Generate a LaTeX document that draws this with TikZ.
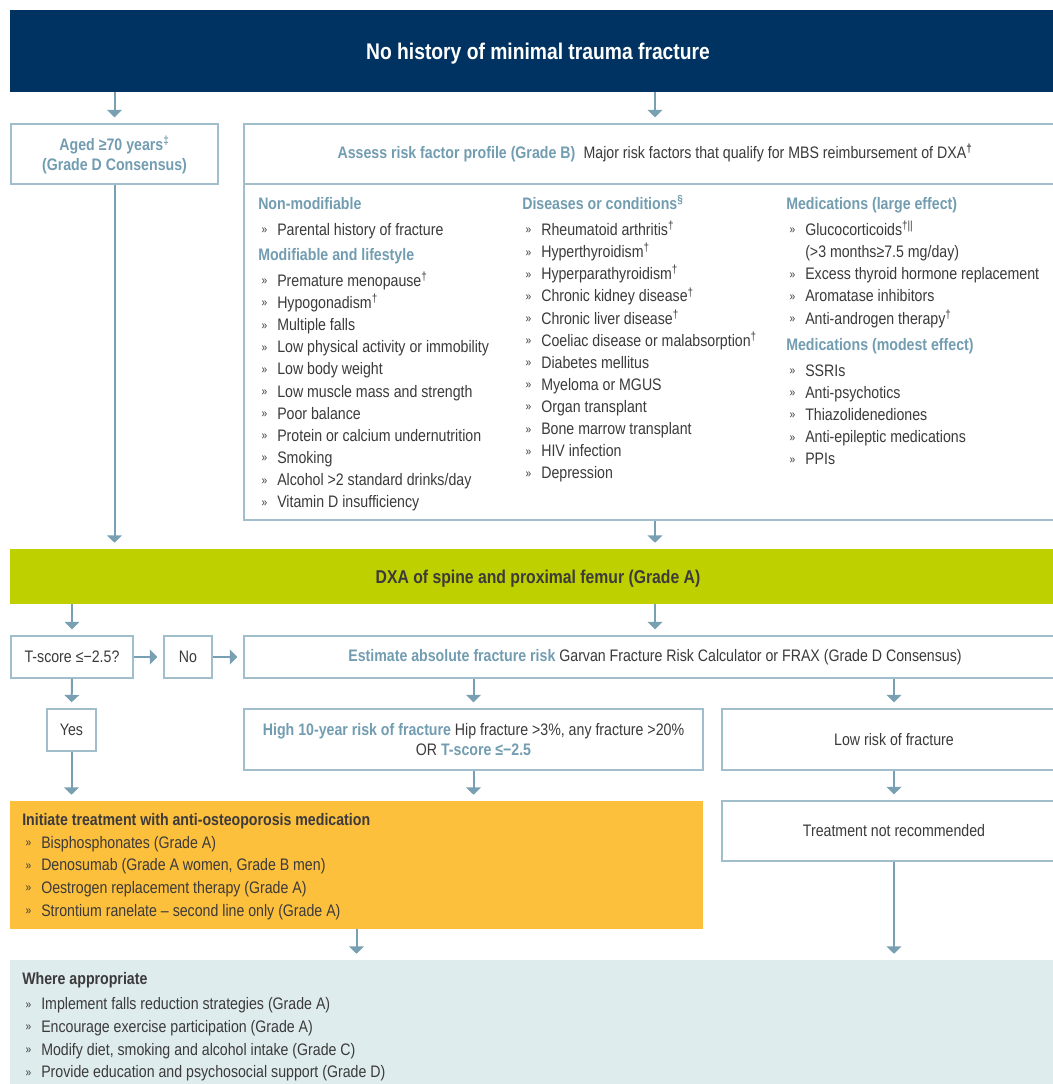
\documentclass[tikz,border=0pt]{standalone}
\usepackage{fontspec}
\setmainfont[FakeStretch=0.85]{Liberation Sans}
\usetikzlibrary{arrows.meta,calc,positioning}
\definecolor{navy}{RGB}{0,51,97}
\definecolor{lime}{RGB}{190,208,0}
\definecolor{amber}{RGB}{253,192,61}
\definecolor{mist}{RGB}{222,236,238}
\definecolor{hblue}{RGB}{114,157,177}
\definecolor{arrowc}{RGB}{120,160,178}
\definecolor{boxline}{RGB}{160,190,204}
\definecolor{ink}{RGB}{60,58,58}
\newcommand\pu{0.75pt}
\newcommand\hd[1]{{\bfseries\color{hblue}#1}}
\newcommand\itm{\makebox[14.25pt][l]{\hspace{2.5pt}\raisebox{1.2pt}{\fontsize{9}{9}\selectfont »}}}
\newcommand\fn[1]{\smash{\textsuperscript{#1}}}
\tikzset{
  box/.style={draw=boxline,line width=1.1pt,fill=white,inner sep=0pt,align=center,text=ink},
  band/.style={inner sep=0pt,align=center},
  arr/.style={draw=arrowc,line width=1.5pt,-{Triangle[width=11pt,length=5.5pt]},shorten >=4.5pt},
  lst/.style={anchor=north west,align=left,inner sep=0pt,text=ink,font=\fontsize{12.5}{16.6}\selectfont},
  every node/.style={font=\fontsize{12.5}{15.5}\selectfont}
}

\begin{document}
\begin{tikzpicture}[x=0.75pt,y=-0.75pt]
\useasboundingbox (0,0) rectangle (1052,1084);
% top band
\node[band,fill=navy,minimum width={1056*\pu},minimum height={82*\pu},text=white,
      text height=12.2pt,text depth=0pt,
      font=\bfseries\fontsize{17}{20}\selectfont] (title) at (538,51) {No history of minimal trauma fracture};
% age and risk factor boxes
\node[box,minimum width={207*\pu},minimum height={60*\pu}] (aged) at (114.5,154)
  {\rule{0pt}{12.1pt}\hd{Aged ≥70 years\fn{‡}}\\ \hd{(Grade D Consensus)}};
\node[box,minimum width={822*\pu},minimum height={396*\pu}] (assess) at (655,322) {};
\draw[boxline,line width=1.1pt] (assess.west |- 0,184) -- (assess.east |- 0,184);
\node[text=ink] (asshd) at (655,154)
  {\hd{Assess risk factor profile (Grade B)}\enspace Major risk factors that qualify for MBS reimbursement of DXA\fn{\bfseries †}};
\node[lst] (nonmod) at (258,197) {%
  \hd{Non-modifiable}\\[3pt]
  \itm Parental history of fracture\\[2pt]
  \hd{Modifiable and lifestyle}\\[3pt]
  \itm Premature menopause\fn{†}\\
  \itm Hypogonadism\fn{†}\\
  \itm Multiple falls\\
  \itm Low physical activity or immobility\\
  \itm Low body weight\\
  \itm Low muscle mass and strength\\
  \itm Poor balance\\
  \itm Protein or calcium undernutrition\\
  \itm Smoking\\
  \itm Alcohol >2 standard drinks/day\\
  \itm Vitamin D insufficiency};
\node[lst] (disease) at (522,197) {%
  \hd{Diseases or conditions\fn{§}}\\[3pt]
  \itm Rheumatoid arthritis\fn{†}\\
  \itm Hyperthyroidism\fn{†}\\
  \itm Hyperparathyroidism\fn{†}\\
  \itm Chronic kidney disease\fn{†}\\
  \itm Chronic liver disease\fn{†}\\
  \itm Coeliac disease or malabsorption\fn{†}\\
  \itm Diabetes mellitus\\
  \itm Myeloma or MGUS\\
  \itm Organ transplant\\
  \itm Bone marrow transplant\\
  \itm HIV infection\\
  \itm Depression};
\node[lst] (medic) at (786,197) {%
  \hd{Medications (large effect)}\\[3pt]
  \itm Glucocorticoids\fn{†||}\\
  \hspace*{14.25pt}(>3 months≥7.5 mg/day)\\
  \itm Excess thyroid hormone replacement\\
  \itm Aromatase inhibitors\\
  \itm Anti-androgen therapy\fn{†}\\[3pt]
  \hd{Medications (modest effect)}\\[3pt]
  \itm SSRIs\\
  \itm Anti-psychotics\\
  \itm Thiazolidenediones\\
  \itm Anti-epileptic medications\\
  \itm PPIs};
% DXA band
\node[band,fill=lime,minimum width={1056*\pu},minimum height={55*\pu},text=ink,
      text height=10pt,text depth=0pt,
      font=\bfseries\fontsize{13.9}{16}\selectfont] (dxa) at (538,576.5) {DXA of spine and proximal femur (Grade A)};
% decision row
\node[box,minimum width={122*\pu},minimum height={42*\pu}] (tsc) at (72,657) {T-score ≤−2.5?};
\node[box,minimum width={48*\pu},minimum height={42*\pu}] (no) at (188,657) {No};
\node[box,minimum width={822*\pu},minimum height={42*\pu}] (est) at (655,657)
  {\hd{Estimate absolute fracture risk} Garvan Fracture Risk Calculator or FRAX (Grade D Consensus)};
\node[box,minimum width={49*\pu},minimum height={42*\pu}] (yes) at (71.5,730) {Yes};
\node[box,minimum width={459*\pu},minimum height={61*\pu}] (high) at (473.5,739.5)
  {\hd{High 10-year risk of fracture} Hip fracture >3\%, any fracture >20\%\\ OR \hd{T-score ≤−2.5}};
\node[box,minimum width={344*\pu},minimum height={61*\pu}] (low) at (894,739.5) {Low risk of fracture};
% outcomes
\node[band,fill=amber,minimum width={693*\pu},minimum height={128*\pu}] (treat) at (356.5,865) {};
\node[lst,font=\fontsize{12.5}{17}\selectfont] (treattx) at (22,813) {%
  {\bfseries Initiate treatment with anti-osteoporosis medication}\\
  \itm Bisphosphonates (Grade A)\\
  \itm Denosumab (Grade A women, Grade B men)\\
  \itm Oestrogen replacement therapy (Grade A)\\
  \itm Strontium ranelate – second line only (Grade A)};
\node[box,minimum width={344*\pu},minimum height={60*\pu}] (notrec) at (894,831) {Treatment not recommended};
\node[band,fill=mist,minimum width={1056*\pu},minimum height={124*\pu}] (where) at (538,1022) {};
\node[lst,font=\fontsize{12.5}{17}\selectfont] (wheretx) at (22,972) {%
  {\bfseries Where appropriate}\\[2pt]
  \itm Implement falls reduction strategies (Grade A)\\
  \itm Encourage exercise participation (Grade A)\\
  \itm Modify diet, smoking and alcohol intake (Grade C)\\
  \itm Provide education and psychosocial support (Grade D)};
% connectors
\draw[arr] (title.south -| aged) -- (aged.north);
\draw[arr] (title.south -| assess) -- (assess.north);
\draw[arr] (aged.south) -- (aged.south |- dxa.north);
\draw[arr] (assess.south) -- (assess.south |- dxa.north);
\draw[arr] (dxa.south -| tsc) -- (tsc.north);
\draw[arr] (dxa.south -| est) -- (est.north);
\draw[arr] (tsc.east) -- (no.west);
\draw[arr] (no.east) -- (est.west);
\draw[arr] (tsc.south) -- (yes.north);
\draw[arr] (est.south -| high) -- (high.north);
\draw[arr] (est.south -| low) -- (low.north);
\draw[arr] (yes.south) -- (yes.south |- treat.north);
\draw[arr] (high.south) -- (high.south |- treat.north);
\draw[arr] (low.south) -- (notrec.north);
\draw[arr] (treat.south) -- (treat.south |- where.north);
\draw[arr] (notrec.south) -- (notrec.south |- where.north);
\end{tikzpicture}
\end{document}
